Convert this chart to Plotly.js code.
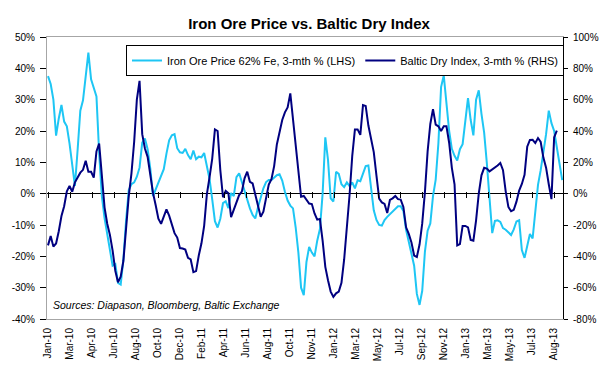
<!DOCTYPE html>
<html><head><meta charset="utf-8">
<script src="https://cdn.plot.ly/plotly-3.0.1.min.js"></script>
<style>html,body{margin:0;padding:0;background:#fff}#chart{width:610px;height:370px}</style>
</head><body><div id="chart"></div>
<script>
// weekly samples, starting at the first data point
const seriesStart = '2010-01-04';
const stepDays = 7;

const tickLabels = ['Jan-10','Mar-10','Apr-10','Jun-10','Aug-10','Oct-10','Dec-10','Feb-11','Apr-11','Jun-11','Aug-11','Oct-11','Nov-11','Jan-12','Mar-12','May-12','Jul-12','Sep-12','Nov-12','Jan-13','Mar-13','May-13','Jul-13','Aug-13'];
const tickStepDays = 57.2;

// Iron Ore Price 62% Fe, 3-mth % change (LHS)
const ironOre = [
37.5, 35, 30, 18.5, 24, 28.3, 23, 21.5, 16, 8.5,
2.5, 14, 26.5, 29.8, 36.5, 45, 36.5, 33.3, 31, 13,
-0.8, -7.8, -13, -18.4, -23, -22.5, -28.5, -29, -21, -8.6,
1.2, 3, 3.6, 5.4, 8.3, 16.3, 17.6, 14.2, 8, -0.8,
1.4, 3.8, 5.5, 7.8, 12.8, 17, 18.6, 19, 14.5, 13.2,
13, 14.3, 12.3, 11, 13.8, 11, 11.8, 11.6, 13, 8.9,
4.7, -1.8, -8.8, -10.8, -8, -3, -2.4, -4.6, 0.2, -0.8,
5.3, 6.5, 3.6, 0.8, -2.3, -4.7, -6.8, -7.9, -4.3, -1.2,
1.7, 3.7, 4.4, 4.4, 5.1, 5.9, 6.2, 4.2, 0.6, -2.2,
-3.8, -4.7, -10.8, -18.8, -30, -32.4, -21.8, -17, -18.8, -20,
-15, -11.3, 0, 18, 10.8, -1.5, -2.5, 7, 6.3, 3,
2.1, 3.6, 2.4, 3.6, 1.7, 4.3, 4, 6.7, 8.8, 9,
2, -5.3, -8.4, -10, -10.2, -8.4, -7.4, -6.5, -5.5, -4.8,
-4, -4, -5.5, -11.5, -15.3, -18.7, -23, -32, -35.5, -31,
-18.5, -11.8, -9.5, -0.8, 4.5, 16, 34, 37.7, 27.5, 20,
14.3, 12.1, 10.6, 14.2, 15.8, 23, 30.5, 23.5, 18.6, 30,
33, 25.5, 19.5, 9.7, -2, -12.6, -8.7, -8.5, -9, -11,
-11.5, -12.2, -13.2, -11.4, -8.9, -8.5, -18, -20.5, -16.8, -12.9,
-14.3, -4.5, 2.8, 7.5, 13, 19, 26.5, 22.5, 20, 14.8,
8.5, 4.3
];

// Baltic Dry Index, 3-mth % change (RHS)
const bdi = [
-33, -27, -33.8, -31.8, -24, -14.3, -8, 1.5, 5, 1.2,
7.2, 10.5, 13.4, 15.2, 21, 14, 14, 10.2, 27, 32,
11, -8.7, -19.2, -26.3, -36.3, -49.3, -56.6, -53, -43, -22.6,
-1.5, 13, 33, 60, 72, 38, 28.8, 23.5, 11, 0.5,
-7.4, -16, -19.3, -14.7, -10, -14, -20.3, -25.2, -28, -34.7,
-35, -35.7, -41, -42, -50.1, -49.4, -39.5, -31.7, -20.5, -0.4,
10.5, 22.4, 41, 40, 15, -2.3, 1.8, 0.3, -15, -10.6,
-5.7, -0.9, 1.3, 9.8, 14, 7.6, 6.5, -0.5, -9.2, -14.7,
-11.5, -3.7, 5.8, 9.2, 17.6, 31.4, 38.4, 47, 51.9, 55,
64, 47, 32.3, 15.4, -2, -1.5, -4.3, -6.3, -6.6, -12.6,
-16.6, -16.2, -30, -46.7, -55.3, -62.5, -65.9, -63.6, -62.5, -56.9,
-42, -23.8, -1, 24, 41, 41, 37.5, 56.5, 56, 43.5,
34.7, 26.5, 11.5, -3.2, -5.6, -6.6, -12.3, -4, -3, -1.5,
-3.5, -3.8, -8.5, -21.5, -25.7, -31.2, -39.5, -40.4, -32.5, -19,
1, 27, 44.5, 54, 44, 43, 40, 43, 43, 32.5,
16.5, 6, -33, -32.2, -20.6, -20.6, -21.5, -29.6, -30, -17,
0, 11.7, 16.5, 16, 14.2, 15.4, 16.5, 18, 19.6, 15,
1.5, -8.5, -11.2, -10.3, -5.1, 2, 6.2, 12, 30, 34.3,
34.4, 32.3, 35.5, 33, 23, 16.6, 6, -3.5, 36, 40.2
];

const leftTicks = [-40, -30, -20, -10, 0, 10, 20, 30, 40, 50];
const rightTicks = [-80, -60, -40, -20, 0, 20, 40, 60, 80, 100];

const DAY = 864e5;
const t0 = Date.parse(seriesStart + 'T00:00:00Z');
const iso = ms => new Date(ms).toISOString().slice(0, 19).replace('T', ' ');
const datesFor = arr => arr.map((_, i) => iso(t0 + i * stepDays * DAY));
const tickVals = tickLabels.map((_, k) => iso(t0 + k * tickStepDays * DAY));
const xRange = [iso(t0 - 2.6 * DAY), iso(t0 + 1339 * DAY)];

const FONT = 'Liberation Sans, Arial, sans-serif';
const PLOT_H = 282;

const traces = [
  {x: datesFor(ironOre), y: ironOre, type: 'scatter', mode: 'lines',
   name: 'Iron Ore Price 62% Fe, 3-mth % (LHS)',
   line: {color: '#1ec6f4', width: 2}, xaxis: 'x', yaxis: 'y'},
  {x: datesFor(bdi), y: bdi, type: 'scatter', mode: 'lines',
   name: 'Baltic Dry Index, 3-mth % (RHS)',
   line: {color: '#000080', width: 2}, xaxis: 'x2', yaxis: 'y2'}
];

const layout = {
  width: 610, height: 370,
  margin: {l: 47, r: 47, t: 37, b: 51, pad: 0},
  paper_bgcolor: '#fff', plot_bgcolor: '#fff',
  font: {family: FONT, color: '#000', size: 10},
  title: {text: '<b>Iron Ore Price vs. Baltic Dry Index</b>', font: {size: 15, family: FONT, color: '#000'},
          xref: 'container', x: 0.5066, xanchor: 'center', yref: 'container', y: 1 - 24 / 370, yanchor: 'middle'},
  showlegend: true,
  legend: {orientation: 'h', x: (126 - 47) / 516, xanchor: 'left', y: (319 - 45) / PLOT_H, yanchor: 'top',
           bgcolor: '#fff', bordercolor: '#000', borderwidth: 1, font: {size: 11, family: FONT, color: '#000'}},
  xaxis: {type: 'date', range: xRange, tickmode: 'array', tickvals: tickVals, ticktext: tickLabels,
          tickangle: -90, ticks: '', ticklabelstandoff: 4, showline: true, linecolor: '#a6a6a6', linewidth: 1, mirror: true,
          showgrid: false, zeroline: false, tickfont: {size: 10, family: FONT, color: '#000'}, fixedrange: true},
  // small tick marks crossing the 0% line
  xaxis2: {type: 'date', overlaying: 'x', anchor: 'free', position: 4 / 9 + 3 / PLOT_H, range: xRange,
           tickmode: 'array', tickvals: tickVals, ticks: 'outside', ticklen: 6, tickcolor: '#000', tickwidth: 1,
           showticklabels: false, showline: false, showgrid: false, zeroline: false, fixedrange: true},
  yaxis: {range: [-40, 50], tickmode: 'array', tickvals: leftTicks, ticktext: leftTicks.map(v => v + '%'),
          ticks: 'outside', ticklen: 6, tickcolor: '#000', ticklabelstandoff: 3, showline: true, linecolor: '#a6a6a6', linewidth: 1,
          showgrid: false, zeroline: true, zerolinecolor: '#000', zerolinewidth: 1,
          tickfont: {size: 10, family: FONT, color: '#000'}, fixedrange: true},
  yaxis2: {overlaying: 'y', side: 'right', anchor: 'x2', range: [-80, 100], tickmode: 'array', tickvals: rightTicks,
           ticktext: rightTicks.map(v => v + '%'), ticks: 'outside', ticklen: 4, tickcolor: '#000', ticklabelstandoff: 3,
           showline: true, linecolor: '#000', linewidth: 1, showgrid: false, zeroline: false,
           tickfont: {size: 10, family: FONT, color: '#000'}, fixedrange: true},
  annotations: [{text: '<i>Sources: Diapason, Bloomberg, Baltic Exchange</i>', xref: 'paper', yref: 'paper',
                 x: (51 - 47) / 516, xanchor: 'left', y: (319 - 305) / PLOT_H, yanchor: 'middle', showarrow: false,
                 font: {size: 10.5, family: FONT, color: '#000'}}]
};

Plotly.newPlot('chart', traces, layout, {displayModeBar: false, staticPlot: true});
</script>
</body></html>
